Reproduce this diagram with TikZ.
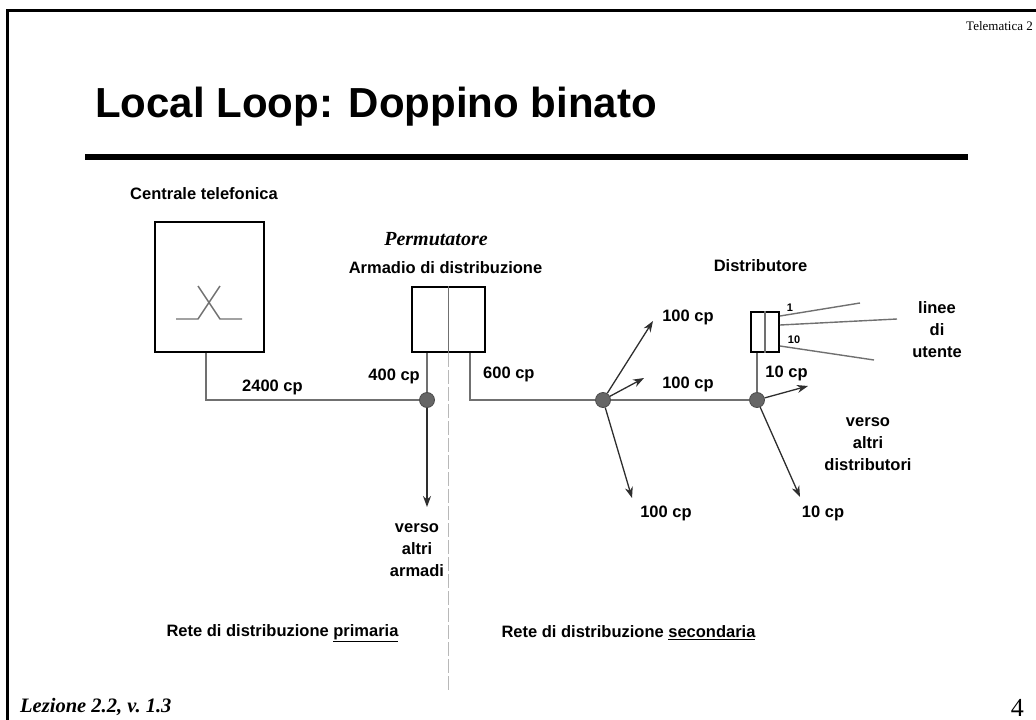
\documentclass[tikz,border=0pt]{standalone}
\usepackage{fontspec}
\setmainfont{Liberation Serif}
\setsansfont{Liberation Sans}
\usetikzlibrary{arrows.meta, positioning}
\definecolor{wiregray}{HTML}{707070}
\definecolor{arrowgray}{HTML}{2E2E2E}
\definecolor{dotgray}{HTML}{666666}
\definecolor{dashgray}{HTML}{B8B8B8}
\tikzset{
  box/.style={draw=black, line width=2pt, inner sep=0pt},
  junc/.style={circle, draw=black!70, line width=0.8pt, fill=dotgray,
               minimum size=15pt, inner sep=0pt},
  wire/.style={draw=wiregray, line width=2pt},
  thinwire/.style={draw=wiregray, line width=1.4pt},
  flow/.style={-{Stealth[length=11pt, width=8pt, inset=3.5pt]}, line width=1.3pt, draw=arrowgray},
  lbl/.style={font=\sffamily\bfseries\fontsize{16.5}{22}\selectfont, align=center, inner sep=0pt},
  tiny/.style={font=\sffamily\bfseries\fontsize{11}{13}\selectfont, inner sep=0pt},
  sepline/.style={draw=dashgray, line width=1.5pt, dash pattern=on 14pt off 3pt},
  serif/.style={font=\rmfamily\fontsize{13}{15}\selectfont, inner sep=0pt},
}

\begin{document}
\begin{tikzpicture}[x=1pt, y=-1pt]
  \useasboundingbox (0,0) rectangle (1036,720);
  \draw[line width=3pt] (7,722) -- (7,10) -- (1038,10);

  \node[serif, anchor=base east] (tele) at (1033,30) {Telematica 2};
  \node[font=\sffamily\bfseries\fontsize{42}{48}\selectfont, anchor=base west, inner sep=0pt]
    (title) at (95,117) {Local Loop: Doppino binato};
  \draw[line width=6pt] (85,157) -- (968,157);

  % centrale
  \node[lbl, anchor=base west] (centlbl) at (130,199) {Centrale telefonica};
  \node[box, line width=2.5pt, minimum width=109pt, minimum height=130pt] (cent) at (209.5,287) {};
  \draw[thinwire] (176,319) -- (198,319) -- (220,286) (198,286) -- (220,319) -- (242,319);

  % armadio
  \node[font=\rmfamily\bfseries\itshape\fontsize{20}{22}\selectfont, anchor=base, inner sep=0pt]
    (perm) at (436,245) {Permutatore};
  \node[lbl, anchor=base] (armlbl) at (445.5,273) {Armadio di distribuzione};
  \node[box, minimum width=73pt, minimum height=65pt] (arm) at (448.5,319.5) {};
  \draw[thinwire] (arm.north) -- (arm.south);

  \node[junc] (j1) at (427,400) {};
  \node[junc] (j2) at (603,400) {};
  \node[junc] (j3) at (757,400) {};

  \draw[sepline] (arm.south) -- (448.5,690) coordinate (sepend);
  \draw[wire] ([xshift=-3.5pt]cent.south) |- (j1);
  \draw[wire] (j1 |- arm.south) -- (j1);
  \draw[wire] ([xshift=21.5pt]arm.south) |- (j2);
  \draw[wire] (j2) -- (j3);

  \node[lbl, anchor=base west] (l2400) at (242,391) {2400 cp};
  \node[lbl, anchor=base east] (l400) at (420,380) {400 cp};
  \node[lbl, anchor=base west] (l600) at (483,378) {600 cp};

  \coordinate (armdown) at (427,507);
  \draw[flow] (j1) -- (armdown);
  \node[lbl] (armtxt) at (417,550.5) {verso\\altri\\armadi};

  % rete secondaria
  \coordinate (a1) at (653,321);
  \coordinate (a2) at (644,378);
  \coordinate (a3) at (632,498);
  \foreach \t in {a1,a2,a3}
    \draw[flow] (j2) -- (\t);
  \node[lbl] (c1) at (688,317) {100 cp};
  \node[lbl] (c2) at (688,384) {100 cp};
  \node[lbl] (c3) at (666,513) {100 cp};

  % distributore
  \node[lbl] (distlbl) at (760.5,266) {Distributore};
  \node[box, minimum width=28pt, minimum height=40pt] (dist) at (765,332) {};
  \draw[thinwire] (dist.north) -- (dist.south);
  \draw[wire] (j3 |- dist.south) -- (j3);
  \draw[thinwire] ([yshift=16pt]dist.east) -- (860,303) coordinate (u1);
  \draw[thinwire] ([yshift=7pt]dist.east) -- (897,319) coordinate (u2);
  \draw[thinwire] ([yshift=-14pt]dist.east) -- (874,360) coordinate (u3);
  \node[tiny] (n1) at (790,308) {1};
  \node[tiny] (n10) at (794,340) {10};
  \node[lbl] (utente) at (937,330) {linee\\di\\utente};

  \coordinate (b1) at (808,386);
  \coordinate (b2) at (800,497);
  \draw[flow] (j3) -- (b1);
  \draw[flow] (j3) -- (b2);
  \node[lbl] (d1) at (786.5,373) {10 cp};
  \node[lbl] (d2) at (823,513) {10 cp};
  \node[lbl] (disttxt) at (868,444.5) {verso\\altri\\distributori};

  \node[lbl] (prim) at (282.5,633) {Rete di distribuzione \underline{primaria}};
  \node[lbl] (sec) at (628.5,633) {Rete di distribuzione \underline{secondaria}};

  \node[font=\rmfamily\bfseries\itshape\fontsize{20.5}{22}\selectfont, anchor=base west, inner sep=0pt]
    (lez) at (20,712) {Lezione 2.2, v.\ 1.3};
  \node[font=\rmfamily\fontsize{26}{28}\selectfont, anchor=base east, inner sep=0pt]
    (page) at (1024,716) {4};
\end{tikzpicture}
\end{document}
